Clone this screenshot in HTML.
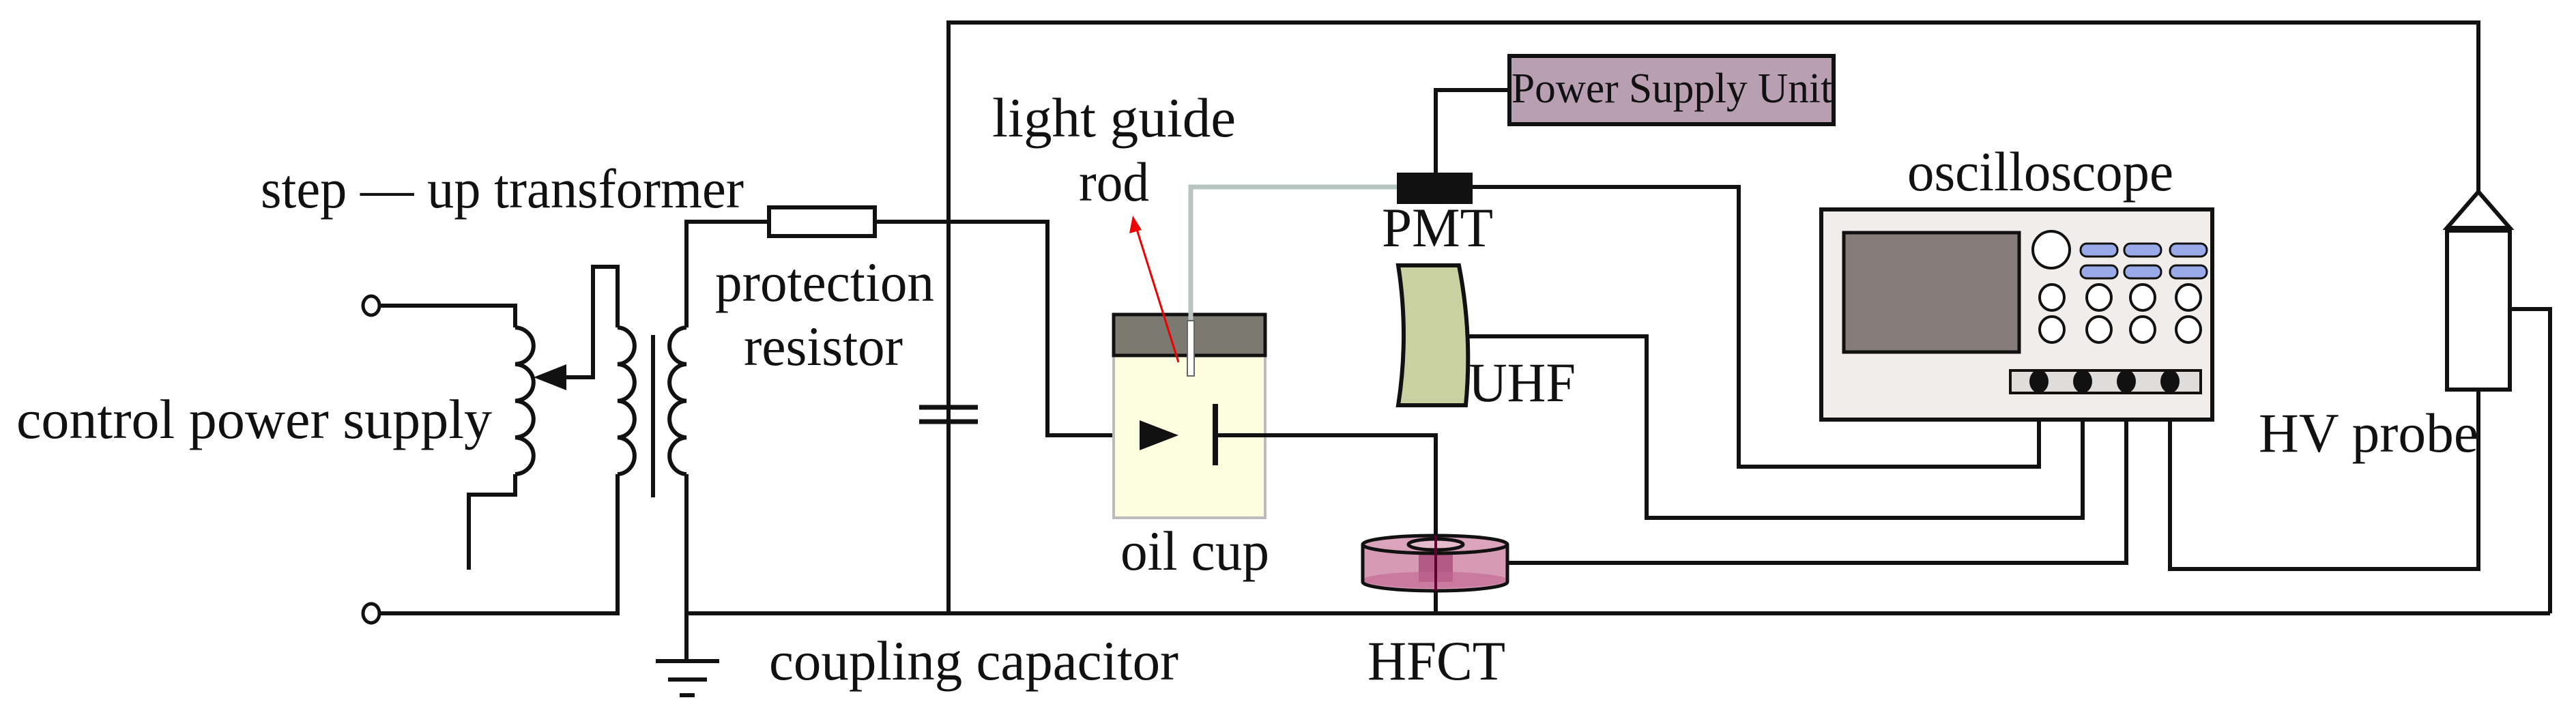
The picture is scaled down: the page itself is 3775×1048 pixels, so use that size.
<!DOCTYPE html>
<html><head><meta charset="utf-8"><style>
html,body{margin:0;padding:0;background:#fff;width:3775px;height:1048px;overflow:hidden}
svg{display:block}
text{font-family:"Liberation Serif",serif;font-size:82px;fill:#111}
</style></head><body>
<svg width="3775" height="1048" viewBox="0 0 3775 1048" xmlns="http://www.w3.org/2000/svg">
<g fill="none" stroke="#111" stroke-width="6">
<polyline points="1390,899 1390,33 3632,33 3632,281"/>
<line x1="1006" y1="899" x2="3737" y2="899"/>
<polyline points="3678,453 3737,453 3737,899"/>
<polyline points="1127,325 1006,325 1006,480"/>
<polyline points="1006,695 1006,969"/>
<path d="M1006,480 a26,26.9 0 0 0 0,53.75 a26,26.9 0 0 0 0,53.75 a26,26.9 0 0 0 0,53.75 a26,26.9 0 0 0 0,53.75"/>
<line x1="961" y1="969" x2="1054" y2="969"/>
<line x1="979" y1="996" x2="1036" y2="996"/>
<line x1="996" y1="1019" x2="1018" y2="1019"/>
<line x1="957" y1="491" x2="957" y2="729"/>
<polyline points="905,480 905,391 869,391 869,553 812,553"/>
<path d="M905,480 a26,26.9 0 0 1 0,53.75 a26,26.9 0 0 1 0,53.75 a26,26.9 0 0 1 0,53.75 a26,26.9 0 0 1 0,53.75"/>
<polyline points="905,695 905,899 556,899"/>
<polyline points="556,448 755,448 755,480"/>
<path d="M755,480 a28,26.9 0 0 1 0,53.75 a28,26.9 0 0 1 0,53.75 a28,26.9 0 0 1 0,53.75 a28,26.9 0 0 1 0,53.75"/>
<polyline points="755,695 755,725 687,725 687,835"/>
<rect x="1127" y="304" width="155" height="42" fill="#fff"/>
<polyline points="1282,325 1535,325 1535,638 1680,638"/>
<line x1="1347" y1="597" x2="1433" y2="597" stroke-width="7"/>
<line x1="1347" y1="618" x2="1433" y2="618" stroke-width="7"/>
</g>
<ellipse cx="544" cy="448" rx="12" ry="14" fill="#fff" stroke="#111" stroke-width="5"/>
<ellipse cx="544" cy="899" rx="12" ry="14" fill="#fff" stroke="#111" stroke-width="5"/>
<polygon points="782,553 830,534 830,572" fill="#111"/>
<rect x="1632" y="461" width="222" height="298" fill="#fdfde0" stroke="#bbb" stroke-width="4"/>
<rect x="1632" y="461" width="222" height="60" fill="#7c7a70" stroke="#111" stroke-width="5"/>
<polyline points="1745,551 1745,274 2050,274" fill="none" stroke="#b8c4c0" stroke-width="7"/>
<rect x="1740" y="470" width="10" height="81" fill="#fff" stroke="#666" stroke-width="2"/>
<polygon points="1727,638 1670,616 1670,660" fill="#111"/>
<line x1="1781" y1="592" x2="1781" y2="682" stroke="#111" stroke-width="8"/>
<polyline points="1781,638 2104,638 2104,899" fill="none" stroke="#111" stroke-width="6"/>
<line x1="1727" y1="531" x2="1664" y2="330" stroke="#e00" stroke-width="3"/>
<polygon points="1660,316 1655,342 1673,337" fill="#e00"/>
<path d="M1997,798 L1997,853 A106,13 0 0 0 2209,853 L2209,798 Z" fill="#d69ab4"/>
<rect x="2079" y="805" width="50" height="48" fill="#b45a86"/>
<ellipse cx="2103" cy="850" rx="106" ry="12" fill="#c06690" opacity="0.6"/>
<path d="M1997,798 L1997,853 A106,13 0 0 0 2209,853 L2209,798" fill="none" stroke="#111" stroke-width="5"/>
<ellipse cx="2103" cy="798" rx="106" ry="13" fill="#dca4bc" stroke="#111" stroke-width="5"/>
<ellipse cx="2104" cy="798" rx="40" ry="8" fill="#e5bccc" stroke="#111" stroke-width="5"/>
<line x1="2104" y1="785" x2="2104" y2="866" stroke="#600030" stroke-width="4"/>
<rect x="2212" y="82" width="475" height="100" fill="#b8a0b2" stroke="#111" stroke-width="6"/>
<polyline points="2212,132 2104,132 2104,253" fill="none" stroke="#111" stroke-width="6"/>
<rect x="2047" y="253" width="111" height="46" fill="#111"/>
<path d="M2049,389 L2138,389 Q2158,491 2148,594 L2049,594 Q2065,491 2049,389 Z" fill="#c9d1a2" stroke="#111" stroke-width="6"/>
<g fill="none" stroke="#111" stroke-width="6">
<polyline points="2158,274 2548,274 2548,684 2988,684 2988,559"/>
<polyline points="2148,493 2413,493 2413,759 3052,759 3052,559"/>
<polyline points="2209,825 3116,825 3116,559"/>
<polyline points="3632,571 3632,834 3180,834 3180,559"/>
</g>
<rect x="2669" y="307" width="573" height="308" fill="#f1edeb" stroke="#111" stroke-width="6"/>
<rect x="2702" y="341" width="257" height="175" fill="#857b79" stroke="#111" stroke-width="5"/>
<circle cx="3006" cy="366" r="27" fill="#fff" stroke="#111" stroke-width="4"/>
<g fill="#9aaae8" stroke="#111" stroke-width="3">
<rect x="3049" y="357" width="54" height="19" rx="9"/><rect x="3113" y="357" width="54" height="19" rx="9"/><rect x="3180" y="357" width="54" height="19" rx="9"/>
<rect x="3049" y="389" width="54" height="19" rx="9"/><rect x="3113" y="389" width="54" height="19" rx="9"/><rect x="3180" y="389" width="54" height="19" rx="9"/>
</g>
<g fill="#fff" stroke="#111" stroke-width="4">
<ellipse cx="3007" cy="436" rx="18" ry="19"/><ellipse cx="3076" cy="436" rx="18" ry="19"/><ellipse cx="3140" cy="436" rx="18" ry="19"/><ellipse cx="3207" cy="436" rx="18" ry="19"/>
<ellipse cx="3007" cy="483" rx="18" ry="19"/><ellipse cx="3076" cy="483" rx="18" ry="19"/><ellipse cx="3140" cy="483" rx="18" ry="19"/><ellipse cx="3207" cy="483" rx="18" ry="19"/>
</g>
<rect x="2946" y="543" width="279" height="33" fill="#e0dcda" stroke="#111" stroke-width="4"/>
<g fill="#111"><ellipse cx="2988" cy="559" rx="14" ry="17"/><ellipse cx="3052" cy="559" rx="14" ry="17"/><ellipse cx="3116" cy="559" rx="14" ry="17"/><ellipse cx="3180" cy="559" rx="14" ry="17"/></g>
<polygon points="3632,281 3586,334 3678,334" fill="#fff" stroke="#111" stroke-width="6"/>
<rect x="3586" y="338" width="92" height="233" fill="#fff" stroke="#111" stroke-width="6"/>
<text x="382" y="304" textLength="708" lengthAdjust="spacingAndGlyphs">step — up  transformer</text>
<text x="1454" y="200" textLength="357" lengthAdjust="spacingAndGlyphs">light  guide</text>
<text x="1581" y="294" textLength="103" lengthAdjust="spacingAndGlyphs">rod</text>
<text x="1048" y="441" textLength="321" lengthAdjust="spacingAndGlyphs">protection</text>
<text x="1090" y="535" textLength="233" lengthAdjust="spacingAndGlyphs">resistor</text>
<text x="24" y="642" textLength="697" lengthAdjust="spacingAndGlyphs">control  power  supply</text>
<text x="1642" y="835" textLength="218" lengthAdjust="spacingAndGlyphs">oil  cup</text>
<text x="1127" y="996" textLength="600" lengthAdjust="spacingAndGlyphs">coupling  capacitor</text>
<text x="2025" y="361" textLength="163" lengthAdjust="spacingAndGlyphs">PMT</text>
<text x="2152" y="588" textLength="157" lengthAdjust="spacingAndGlyphs">UHF</text>
<text x="2004" y="996" textLength="202" lengthAdjust="spacingAndGlyphs">HFCT</text>
<text x="2795" y="279" textLength="390" lengthAdjust="spacingAndGlyphs">oscilloscope</text>
<text x="3310" y="662" textLength="322" lengthAdjust="spacingAndGlyphs">HV  probe</text>
<text x="2215" y="150" style="font-size:62px" textLength="470" lengthAdjust="spacingAndGlyphs">Power Supply Unit</text>
</svg>
</body></html>
